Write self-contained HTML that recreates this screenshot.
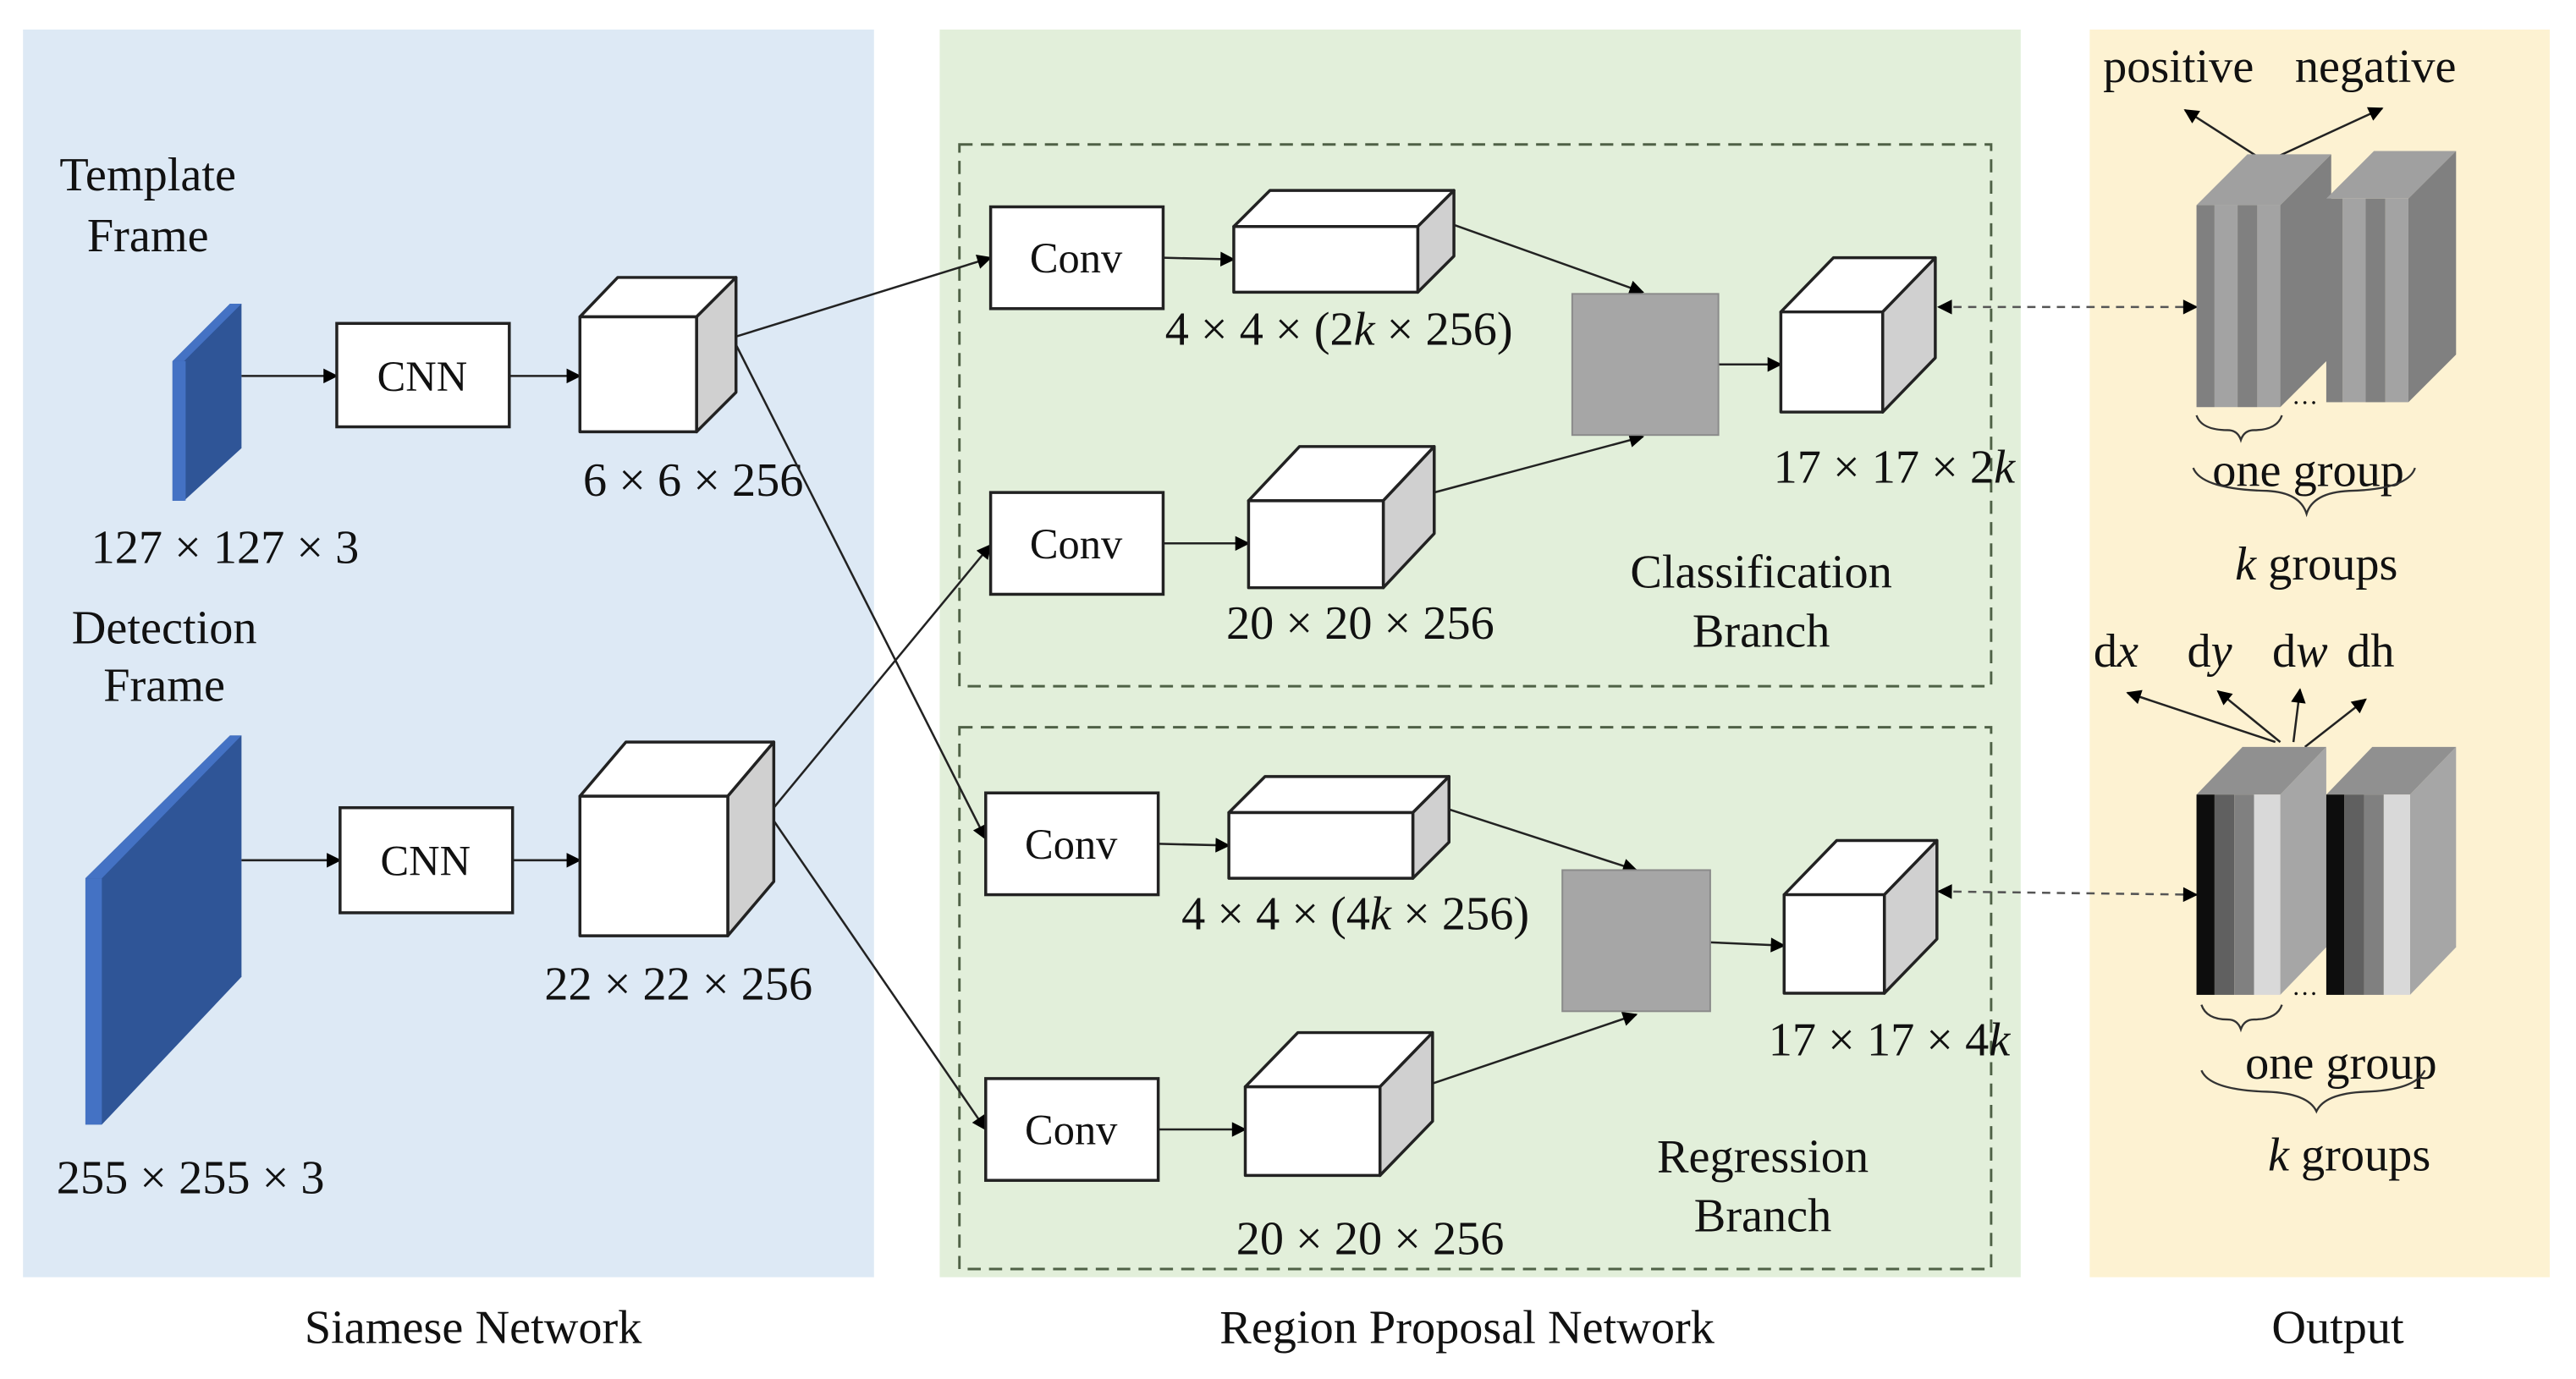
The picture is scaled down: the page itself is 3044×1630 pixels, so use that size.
<!DOCTYPE html>
<html><head><meta charset="utf-8"><style>
html,body{margin:0;padding:0;background:#fff;}
svg{display:block;}
text{font-family:"Liberation Serif",serif;fill:#111;}
</style></head><body>
<svg width="3044" height="1630" viewBox="0 0 1568 840" preserveAspectRatio="none" xmlns="http://www.w3.org/2000/svg">
<defs>
<marker id="a" viewBox="0 0 10 10" refX="9" refY="5" markerWidth="10" markerHeight="9" orient="auto-start-reverse" markerUnits="userSpaceOnUse"><path d="M0,0 L10,5 L0,10 z" fill="#000"/></marker>
</defs>
<rect x="0" y="0" width="1568" height="840" fill="#fff"/>
<rect x="14" y="18" width="518" height="760" fill="#dde9f5"/>
<rect x="572" y="18" width="658" height="760" fill="#e2efda"/>
<rect x="1272" y="18" width="280" height="760" fill="#fdf2d2"/>
<rect x="584" y="88" width="628" height="330" fill="none" stroke="#4f6146" stroke-width="1.5" stroke-dasharray="8,5"/>
<rect x="584" y="443" width="628" height="330" fill="none" stroke="#4f6146" stroke-width="1.5" stroke-dasharray="8,5"/>

<g font-size="29" text-anchor="middle">
<text x="90" y="116">Template</text><text x="90" y="153">Frame</text>
<text x="100" y="392">Detection</text><text x="100" y="427">Frame</text>
<text x="137" y="343">127 × 127 × 3</text>
<text x="116" y="727">255 × 255 × 3</text>
<text x="422" y="302">6 × 6 × 256</text>
<text x="413" y="609">22 × 22 × 256</text>
<text x="815" y="210">4 × 4 × (2<tspan font-style="italic">k</tspan> × 256)</text>
<text x="828" y="389">20 × 20 × 256</text>
<text x="1153" y="294">17 × 17 × 2<tspan font-style="italic">k</tspan></text>
<text x="1072" y="358">Classification</text><text x="1072" y="394">Branch</text>
<text x="825" y="566">4 × 4 × (4<tspan font-style="italic">k</tspan> × 256)</text>
<text x="834" y="764">20 × 20 × 256</text>
<text x="1150" y="643">17 × 17 × 4<tspan font-style="italic">k</tspan></text>
<text x="1073" y="714">Regression</text><text x="1073" y="750">Branch</text>
<text x="288" y="818">Siamese Network</text>
<text x="893" y="818">Region Proposal Network</text>
<text x="1423" y="818">Output</text>
<text x="1326" y="50">positive</text><text x="1446" y="50">negative</text>
<text x="1405" y="296">one group</text>
<text x="1410" y="353"><tspan font-style="italic">k</tspan> groups</text>
<text x="1288" y="406">d<tspan font-style="italic">x</tspan></text>
<text x="1345" y="406">d<tspan font-style="italic">y</tspan></text>
<text x="1400" y="406">d<tspan font-style="italic">w</tspan></text>
<text x="1443" y="406">dh</text>
<text x="1425" y="657">one group</text>
<text x="1430" y="713"><tspan font-style="italic">k</tspan> groups</text>
</g>

<polygon points="105,220 140,185 147,185 147,273 112,305 105,305" fill="#2f5597"/>
<polygon points="105,220 140,185 147,185 112,220" fill="#4472c4"/>
<rect x="105" y="220" width="8" height="85" fill="#4472c4"/>
<polygon points="52,535 140,448 147,448 147,595 62,685 52,685" fill="#2f5597"/>
<polygon points="52,535 140,448 147,448 62,535" fill="#4472c4"/>
<rect x="52" y="535" width="10" height="150" fill="#4472c4"/>

<g stroke="#222" stroke-width="1.3" fill="none">
<line x1="147" y1="229" x2="205" y2="229" marker-end="url(#a)"/>
<line x1="310" y1="229" x2="353" y2="229" marker-end="url(#a)"/>
<line x1="147" y1="524" x2="207" y2="524" marker-end="url(#a)"/>
<line x1="312" y1="524" x2="353" y2="524" marker-end="url(#a)"/>
<line x1="448" y1="205" x2="603" y2="157" marker-end="url(#a)"/>
<line x1="448" y1="210" x2="600" y2="511" marker-end="url(#a)"/>
<line x1="471" y1="492" x2="603" y2="332" marker-end="url(#a)"/>
<line x1="471" y1="500" x2="600" y2="688" marker-end="url(#a)"/>
<line x1="708" y1="157" x2="751" y2="158" marker-end="url(#a)"/>
<line x1="708" y1="331" x2="760" y2="331" marker-end="url(#a)"/>
<line x1="705" y1="514" x2="748" y2="515" marker-end="url(#a)"/>
<line x1="705" y1="688" x2="758" y2="688" marker-end="url(#a)"/>
<line x1="885" y1="137" x2="1000" y2="178" marker-end="url(#a)"/>
<line x1="873" y1="300" x2="1000" y2="266" marker-end="url(#a)"/>
<line x1="1046" y1="222" x2="1084" y2="222" marker-end="url(#a)"/>
<line x1="882" y1="493" x2="996" y2="530" marker-end="url(#a)"/>
<line x1="872" y1="660" x2="996" y2="618" marker-end="url(#a)"/>
<line x1="1041" y1="574" x2="1086" y2="576" marker-end="url(#a)"/>
<line x1="1375" y1="96" x2="1330" y2="67" marker-end="url(#a)"/>
<line x1="1385" y1="96" x2="1450" y2="66" marker-end="url(#a)"/>
<line x1="1385" y1="452" x2="1295" y2="422" marker-end="url(#a)"/>
<line x1="1388" y1="452" x2="1350" y2="421" marker-end="url(#a)"/>
<line x1="1396" y1="452" x2="1400" y2="420" marker-end="url(#a)"/>
<line x1="1403" y1="455" x2="1440" y2="426" marker-end="url(#a)"/>
</g>
<g stroke="#555" stroke-width="1.3" stroke-dasharray="5,4" fill="none">
<line x1="1180" y1="187" x2="1337" y2="187" marker-end="url(#a)" marker-start="url(#a)"/>
<line x1="1180" y1="543" x2="1337" y2="545" marker-end="url(#a)" marker-start="url(#a)"/>
</g>

<g fill="#fff" stroke="#222" stroke-width="1.8">
<rect x="205" y="197" width="105" height="63"/>
<rect x="207" y="492" width="105" height="64"/>
<rect x="603" y="126" width="105" height="62"/>
<rect x="603" y="300" width="105" height="62"/>
<rect x="600" y="483" width="105" height="62"/>
<rect x="600" y="657" width="105" height="62"/>
</g>
<g font-size="26" text-anchor="middle">
<text x="257" y="238">CNN</text><text x="259" y="533">CNN</text>
<text x="655" y="166">Conv</text><text x="655" y="340">Conv</text>
<text x="652" y="523">Conv</text><text x="652" y="697">Conv</text>
</g>
<rect x="957" y="179" width="89" height="86" fill="#a6a6a6" stroke="#8a8a8a"/>
<rect x="951" y="530" width="90" height="86" fill="#a6a6a6" stroke="#8a8a8a"/>

<g stroke="#222" stroke-width="1.8" stroke-linejoin="round">
<polygon points="353,193 376,169 448,169 424,193" fill="#fff"/>
<polygon points="424,193 448,169 448,239 424,263" fill="#d0d0d0"/>
<rect x="353" y="193" width="71" height="70" fill="#fff"/>
<polygon points="353,485 381,452 471,452 443,485" fill="#fff"/>
<polygon points="443,485 471,452 471,537 443,570" fill="#d0d0d0"/>
<rect x="353" y="485" width="90" height="85" fill="#fff"/>
<polygon points="751,138 773,116 885,116 863,138" fill="#fff"/>
<polygon points="863,138 885,116 885,156 863,178" fill="#d0d0d0"/>
<rect x="751" y="138" width="112" height="40" fill="#fff"/>
<polygon points="760,305 791,272 873,272 842,305" fill="#fff"/>
<polygon points="842,305 873,272 873,325 842,358" fill="#d0d0d0"/>
<rect x="760" y="305" width="82" height="53" fill="#fff"/>
<polygon points="1084,190 1116,157 1178,157 1146,190" fill="#fff"/>
<polygon points="1146,190 1178,157 1178,218 1146,251" fill="#d0d0d0"/>
<rect x="1084" y="190" width="62" height="61" fill="#fff"/>
<polygon points="748,495 770,473 882,473 860,495" fill="#fff"/>
<polygon points="860,495 882,473 882,513 860,535" fill="#d0d0d0"/>
<rect x="748" y="495" width="112" height="40" fill="#fff"/>
<polygon points="758,662 790,629 872,629 840,662" fill="#fff"/>
<polygon points="840,662 872,629 872,683 840,716" fill="#d0d0d0"/>
<rect x="758" y="662" width="82" height="54" fill="#fff"/>
<polygon points="1086,545 1118,512 1179,512 1147,545" fill="#fff"/>
<polygon points="1147,545 1179,512 1179,572 1147,605" fill="#d0d0d0"/>
<rect x="1086" y="545" width="61" height="60" fill="#fff"/>
</g>

<g>
<polygon points="1337,125 1368,94 1419,94 1388,125" fill="#a0a0a0"/>
<polygon points="1388,125 1419,94 1419,217 1388,248" fill="#808080"/>
<rect x="1337" y="125" width="11" height="123" fill="#808080"/>
<rect x="1348" y="125" width="14" height="123" fill="#a3a3a3"/>
<rect x="1362" y="125" width="12" height="123" fill="#808080"/>
<rect x="1374" y="125" width="14" height="123" fill="#a3a3a3"/>
<polygon points="1416,121 1445,92 1495,92 1466,121" fill="#a0a0a0"/>
<polygon points="1466,121 1495,92 1495,216 1466,245" fill="#808080"/>
<rect x="1416" y="121" width="10" height="124" fill="#808080"/>
<rect x="1426" y="121" width="14" height="124" fill="#a3a3a3"/>
<rect x="1440" y="121" width="12" height="124" fill="#808080"/>
<rect x="1452" y="121" width="14" height="124" fill="#a3a3a3"/>
</g>
<text x="1403" y="246" font-size="16" text-anchor="middle">…</text>
<g>
<polygon points="1337,484 1365,455 1416,455 1388,484" fill="#909090"/>
<polygon points="1388,484 1416,455 1416,577 1388,606" fill="#a6a6a6"/>
<rect x="1337" y="484" width="11" height="122" fill="#0d0d0d"/>
<rect x="1348" y="484" width="12" height="122" fill="#606060"/>
<rect x="1360" y="484" width="12" height="122" fill="#808080"/>
<rect x="1372" y="484" width="16" height="122" fill="#d9d9d9"/>
<polygon points="1416,484 1444,455 1495,455 1467,484" fill="#909090"/>
<polygon points="1467,484 1495,455 1495,577 1467,606" fill="#a6a6a6"/>
<rect x="1416" y="484" width="11" height="122" fill="#0d0d0d"/>
<rect x="1427" y="484" width="12" height="122" fill="#606060"/>
<rect x="1439" y="484" width="12" height="122" fill="#808080"/>
<rect x="1451" y="484" width="16" height="122" fill="#d9d9d9"/>
</g>
<text x="1403" y="606" font-size="16" text-anchor="middle">…</text>

<g stroke="#333" stroke-width="1.2" fill="none">
<path d="M1337,253 Q1340,262 1356,262 Q1362,262 1364,268 Q1366,262 1372,262 Q1386,262 1389,253"/>
<path d="M1335,285 Q1340,298 1380,299 Q1400,300 1404,313 Q1408,300 1430,299 Q1466,298 1470,285"/>
<path d="M1340,612 Q1343,621 1356,621 Q1362,621 1364,627 Q1366,621 1372,621 Q1386,621 1389,612"/>
<path d="M1340,652 Q1345,664 1380,665 Q1405,666 1410,677 Q1415,666 1440,665 Q1470,664 1476,652"/>
</g>
</svg>
</body></html>
